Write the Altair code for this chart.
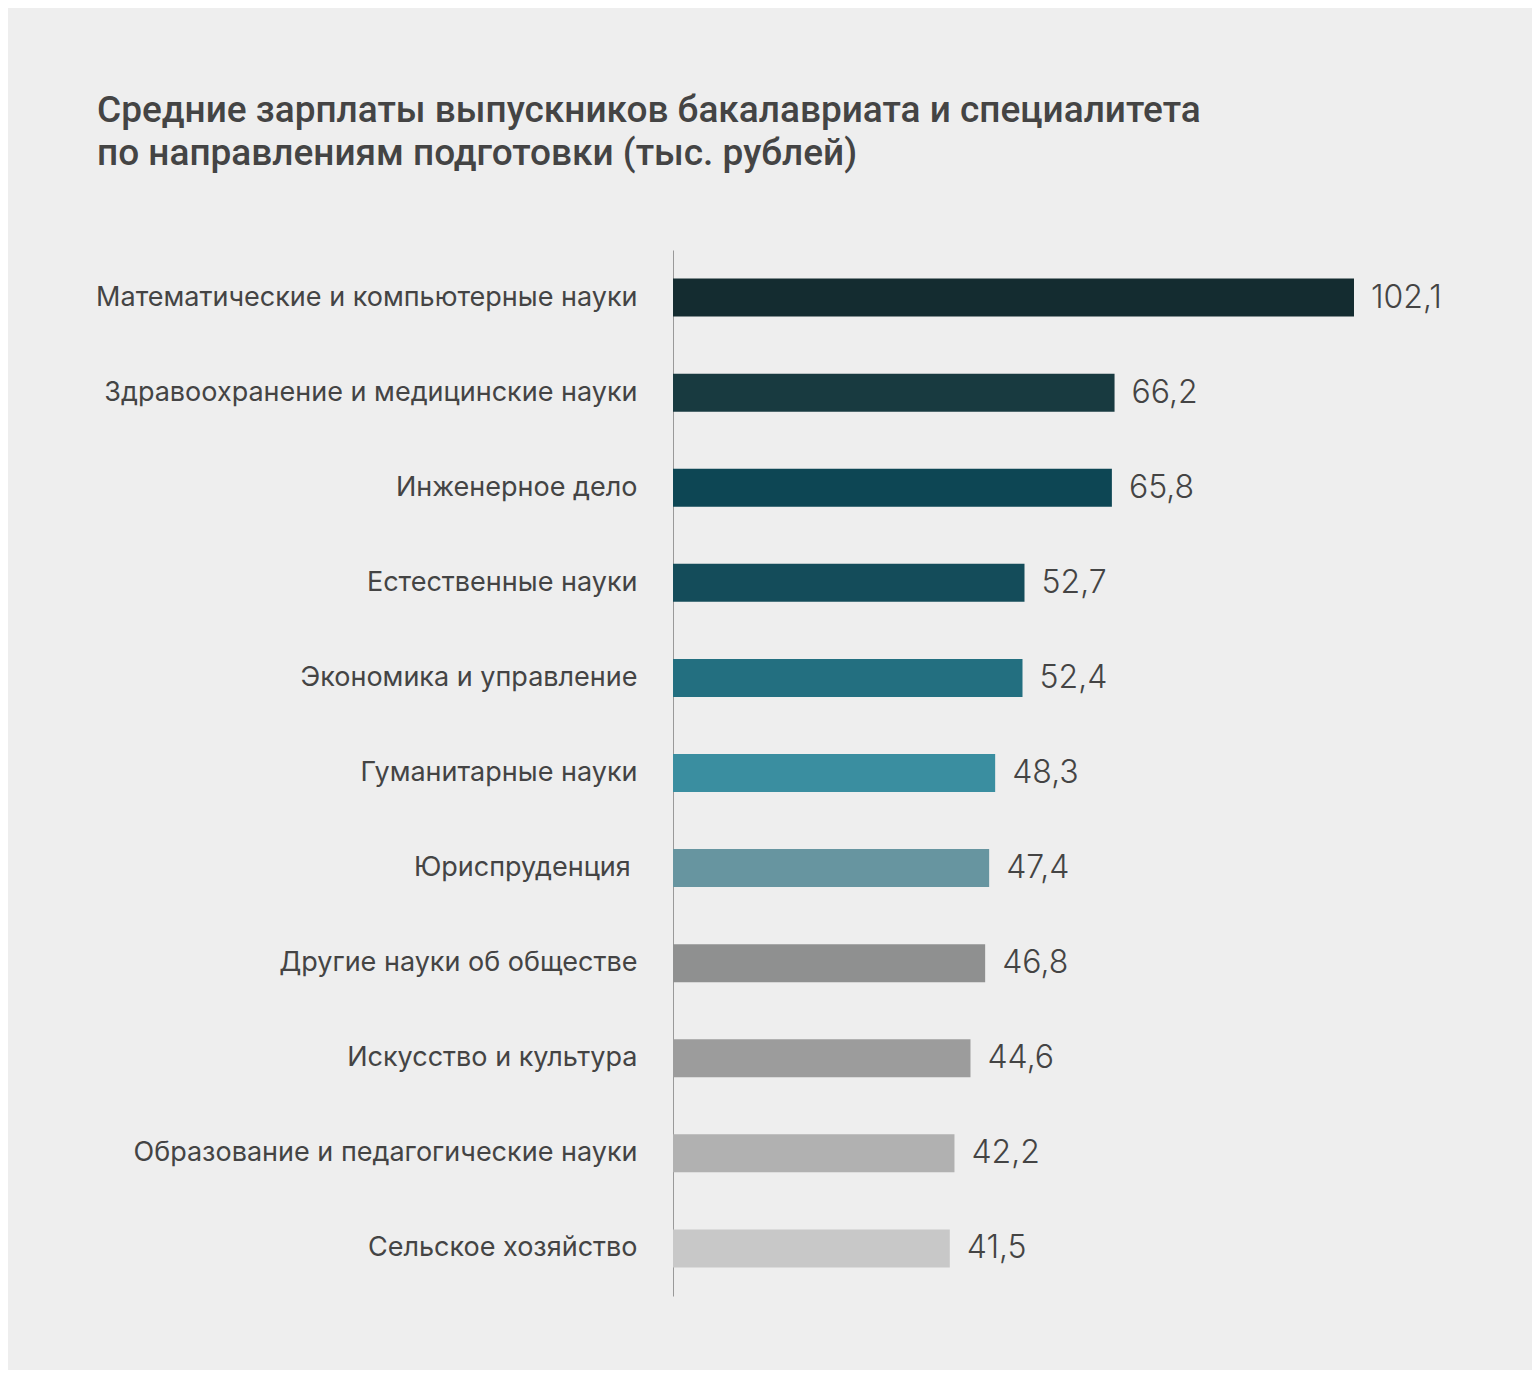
import altair as alt
import pandas as pd

categories = [
    "Математические и компьютерные науки",
    "Здравоохранение и медицинские науки",
    "Инженерное дело",
    "Естественные науки",
    "Экономика и управление",
    "Гуманитарные науки",
    "Юриспруденция\u2005\u200b",
    "Другие науки об обществе",
    "Искусство и культура",
    "Образование и педагогические науки",
    "Сельское хозяйство",
]
values = [102.1, 66.2, 65.8, 52.7, 52.4, 48.3, 47.4, 46.8, 44.6, 42.2, 41.5]
colors = ["#142c30", "#183a40", "#0d4654", "#144c5a", "#236f80", "#3a8ea0",
          "#6795a0", "#8f9090", "#9c9c9c", "#b1b1b1", "#c8c8c8"]
title_lines = [
    "Средние зарплаты выпускников бакалавриата и специалитета",
    "по направлениям подготовки (тыс. рублей)",
]

df = pd.DataFrame({
    "cat": categories,
    "val": values,
    "label": [f"{v:.1f}".replace(".", ",") for v in values],
})

x = alt.X("val:Q", scale=alt.Scale(domain=[0, 102.1], nice=False, zero=True), axis=None)
y = alt.Y("cat:N", sort=categories,
          scale=alt.Scale(paddingInner=0, paddingOuter=0),
          axis=alt.Axis(title=None, ticks=False, domain=True, domainColor="#999999",
                        domainWidth=1, labelFont="Inter", labelFontSize=27,
                        labelColor="#444444", labelPadding=36, labelLimit=700,
                        grid=False))

bars = alt.Chart(df).mark_bar(size=38).encode(
    x=x, y=y,
    color=alt.Color("cat:N", scale=alt.Scale(domain=categories, range=colors), legend=None),
)

text = alt.Chart(df).mark_text(align="left", baseline="middle", dx=17,
                               font="Inter", fontSize=32, fontWeight=300,
                               color="#444444").encode(
    x=x, y=y, text="label:N",
)

chart = alt.layer(bars, text).properties(
    width=681, height=1046,
    autosize=alt.AutoSizeParams(type="none"),
    padding={"left": 665, "top": 242, "right": 178, "bottom": 74},
    background="#eeeeee",
    title=alt.TitleParams(text=title_lines, anchor="start", frame="group", dx=-576,
                          dy=3,
                          font="Roboto", fontSize=37, fontWeight=500, color="#444444",
                          lineHeight=43, offset=80),
).configure_view(stroke=None)

chart.save("out.html", embed_options={"renderer": "svg", "actions": False})
